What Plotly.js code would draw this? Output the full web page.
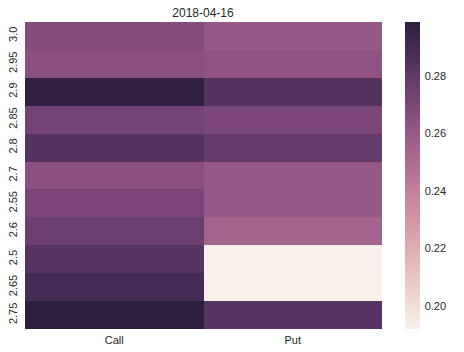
<!DOCTYPE html>
<html>
<head>
<meta charset="utf-8">
<script src="https://cdn.plot.ly/plotly-3.0.1.min.js"></script>
<style>html,body{margin:0;padding:0;background:#fff;}#chart{width:464px;height:352px;}</style>
</head>
<body>
<div id="chart"></div>
<script>
// Data
const strikes = ['3.0','2.95','2.9','2.85','2.8','2.7','2.55','2.6','2.5','2.65','2.75'];
const columns = ['Call','Put'];
const callIV = [0.2674, 0.2654, 0.2972, 0.2734, 0.2843, 0.2654, 0.2714, 0.2761, 0.2836, 0.2895, 0.2988];
const putIV  = [0.2601, 0.2634, 0.2848, 0.2708, 0.2788, 0.2601, 0.2604, 0.2547, 0.1920, 0.1922, 0.2834];
const cbTicks = [0.20, 0.22, 0.24, 0.26, 0.28];
const titleText = '2018-04-16';

// seaborn cubehelix_palette(light=.95, dark=.15) colour map
function cubehelix(x) {
  const a = 0.8 * x * (1 - x) / 2;
  const phi = 2 * Math.PI * (0 / 3 + 0.4 * x);
  const c = Math.cos(phi), s = Math.sin(phi);
  const clip = v => Math.max(0, Math.min(1, v));
  const r = clip(x + a * (-0.14861 * c + 1.78277 * s));
  const g = clip(x + a * (-0.29227 * c - 0.90649 * s));
  const b = clip(x + a * (1.97294 * c));
  return 'rgb(' + Math.round(r * 255) + ',' + Math.round(g * 255) + ',' + Math.round(b * 255) + ')';
}
const colorscale = [];
for (let i = 0; i <= 40; i++) {
  const t = i / 40;
  colorscale.push([t, cubehelix(0.95 - 0.8 * t)]);
}

const z = strikes.map((_, i) => [callIV[i], putIV[i]]);
const fontFam = 'Liberation Sans, Arial, sans-serif';

const trace = {
  type: 'heatmap',
  x: columns,
  y: strikes,
  z: z,
  colorscale: colorscale,
  colorbar: {
    x: 1.0644, xanchor: 'left', xpad: 0,
    y: 0.5, yanchor: 'middle', ypad: 0,
    len: 1, lenmode: 'fraction',
    thickness: 15, thicknessmode: 'pixels',
    outlinewidth: 0,
    ticks: 'outside', ticklen: 3, tickcolor: 'rgba(0,0,0,0)',
    tickmode: 'array', tickvals: cbTicks,
    ticktext: cbTicks.map(v => v.toFixed(2)),
    tickfont: {family: fontFam, size: 11, color: '#262626'}
  }
};

const layout = {
  width: 464, height: 352,
  margin: {l: 25, r: 82, t: 22, b: 23, pad: 0},
  paper_bgcolor: '#ffffff',
  plot_bgcolor: '#ffffff',
  title: {
    text: titleText,
    x: 0.4375, xanchor: 'center', y: 0.964, yanchor: 'middle',
    font: {family: fontFam, size: 12, color: '#262626'}
  },
  xaxis: {
    type: 'category', showgrid: false, zeroline: false, showline: false,
    ticks: '', ticklen: 0, ticklabelstandoff: 3,
    tickfont: {family: fontFam, size: 11, color: '#262626'}
  },
  yaxis: {
    type: 'category', autorange: 'reversed', showgrid: false, zeroline: false, showline: false,
    ticks: '', ticklen: 0, tickangle: -90, ticklabelstandoff: 5,
    tickfont: {family: fontFam, size: 11, color: '#262626'}
  },
  font: {family: fontFam, color: '#262626'}
};

Plotly.newPlot('chart', [trace], layout, {displayModeBar: false, staticPlot: true});
</script>
</body>
</html>
